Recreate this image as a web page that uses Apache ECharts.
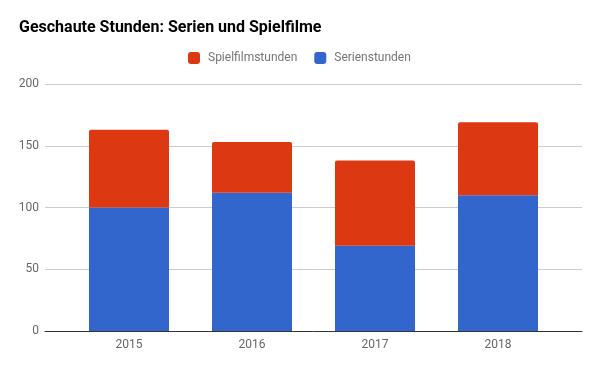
<!DOCTYPE html>
<html>
<head>
<meta charset="utf-8">
<script src="https://cdn.jsdelivr.net/npm/echarts@6/dist/echarts.min.js"></script>
<style>html,body{margin:0;padding:0;background:#fff}#c{width:600px;height:371px}</style>
</head>
<body>
<div id="c"></div>
<script>
const categories = ['2015', '2016', '2017', '2018'];
const serienstunden = [100, 112, 69, 110];
const spielfilmstunden = [63, 41, 69, 59];
const yTicks = [0, 50, 100, 150, 200];

const chart = echarts.init(document.getElementById('c'), null, {renderer: 'canvas'});
const font = 'Roboto';
chart.setOption({
  animation: false,
  title: {
    text: 'Geschaute Stunden: Serien und Spielfilme',
    left: 14, top: 15,
    textStyle: {fontFamily: font, fontWeight: 'bold', fontSize: 16, color: '#000'}
  },
  legend: {
    data: ['Spielfilmstunden', 'Serienstunden'],
    top: 47, left: 183,
    itemWidth: 12, itemHeight: 12, itemGap: 17,
    icon: 'roundRect',
    textStyle: {fontFamily: font, fontSize: 12, color: '#757575', padding: [0, 0, 0, 3]}
  },
  grid: [
    {left: 45, right: 18, top: 84, bottom: 40},
    {left: 67.5, right: 40.5, top: 84, bottom: 40}
  ],
  xAxis: [
    {type: 'category', gridIndex: 0, data: categories,
     axisLine: {lineStyle: {color: '#333', width: 1}}, axisTick: {show: false}, axisLabel: {show: false}},
    {type: 'category', gridIndex: 1, data: categories,
     axisLine: {show: false}, axisTick: {show: false},
     axisLabel: {fontFamily: font, fontSize: 12, color: '#666', margin: 8}}
  ],
  yAxis: [
    {type: 'value', gridIndex: 0, min: yTicks[0], max: yTicks[yTicks.length - 1], interval: 50,
     axisLine: {show: false}, axisTick: {show: false},
     axisLabel: {fontFamily: font, fontSize: 12, color: '#666', margin: 6},
     splitLine: {lineStyle: {color: '#ccc', width: 1}}},
    {type: 'value', gridIndex: 1, min: yTicks[0], max: yTicks[yTicks.length - 1], interval: 50,
     show: false, splitLine: {show: false}}
  ],
  series: [
    {name: 'Serienstunden', type: 'bar', stack: 'total', xAxisIndex: 1, yAxisIndex: 1,
     barWidth: 80, data: serienstunden, itemStyle: {color: '#3366cc'}},
    {name: 'Spielfilmstunden', type: 'bar', stack: 'total', xAxisIndex: 1, yAxisIndex: 1,
     barWidth: 80, data: spielfilmstunden, itemStyle: {color: '#dc3912', borderRadius: [2, 2, 0, 0]}}
  ]
});
</script>
</body>
</html>
